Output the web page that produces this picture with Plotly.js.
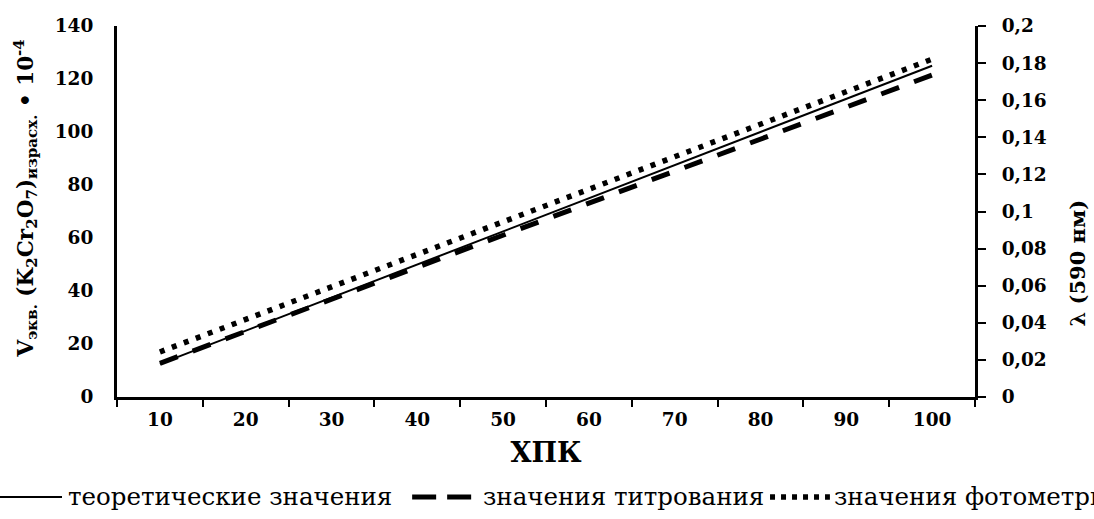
<!DOCTYPE html>
<html>
<head>
<meta charset="utf-8">
<script src="https://cdn.plot.ly/plotly-3.0.1.min.js"></script>
<style>
  html, body { margin: 0; padding: 0; background: #fff; overflow: hidden; }
  #chart { width: 1094px; height: 519px; }
</style>
</head>
<body>
<div id="chart"></div>
<script>
// Categories (ХПК)
const categories = ['10', '20', '30', '40', '50', '60', '70', '80', '90', '100'];
// Series values
const theoretical = [12.5, 25, 37.5, 50, 62.5, 75, 87.5, 100, 112.5, 125];
const titration   = [12.7, 24.8, 36.8, 48.8, 61, 73, 85.2, 97.3, 109.4, 121.5];
const photometry  = [17, 29.3, 41.6, 53.8, 66.1, 78.3, 90.6, 102.9, 115.2, 127.5];
// Axis ticks
const leftTicks  = [0, 20, 40, 60, 80, 100, 120, 140];
const rightTicks = [0, 0.02, 0.04, 0.06, 0.08, 0.1, 0.12, 0.14, 0.16, 0.18, 0.2];
const seriesNames = ['теоретические значения', 'значения титрования', 'значения фотометрии'];

const FONT = '"DejaVu Serif", serif';

const lineStyles = [
  {color: '#000', width: 2},
  {color: '#000', width: 5, dash: '19px,16px'},
  {color: '#000', width: 5.5, dash: '5px,7.8px'}
];
const seriesData = [theoretical, titration, photometry];

const traces = seriesData.map((vals, i) => ({
  x: categories, y: vals, name: seriesNames[i], type: 'scatter', mode: 'lines',
  line: lineStyles[i], xaxis: 'x', yaxis: 'y', showlegend: false
}));
// invisible trace to activate the right axis
traces.push({
  x: categories, y: categories.map(() => null), yaxis: 'y2', type: 'scatter', mode: 'lines',
  showlegend: false, hoverinfo: 'skip'
});

// Legend drawn below the chart (positions in paper units)
const legY = -0.2695;
const legSamples = [[-0.1364, -0.0641], [0.3440, 0.4137], [0.7611, 0.8309]];
const legTextX = [-0.0595, 0.4241, 0.8333];
const legDash = [null, '24px,11px', '5px,6px'];

const shapes = legSamples.map((s, i) => ({
  type: 'line', xref: 'paper', yref: 'paper', x0: s[0], x1: s[1], y0: legY, y1: legY,
  line: Object.assign({}, lineStyles[i], legDash[i] ? {dash: legDash[i]} : {})
}));

const annotations = seriesNames.map((n, i) => ({
  xref: 'paper', yref: 'paper', x: legTextX[i], y: legY, xanchor: 'left', yanchor: 'middle',
  text: n, showarrow: false, font: {family: FONT, size: 24.5, color: '#000'}
}));
// left axis title
annotations.push({
  xref: 'paper', yref: 'paper', x: -0.1072, y: 0.535, xanchor: 'center', yanchor: 'middle',
  text: '<b>V<sub>экв.</sub> (K<sub>2</sub>Cr<sub>2</sub>O<sub>7</sub>)<sub>израсх.</sub> • 10<sup>-4</sup></b>',
  textangle: -90, showarrow: false, font: {family: FONT, size: 21.5, color: '#000'}
});
// right axis title
annotations.push({
  xref: 'paper', yref: 'paper', x: 1.119, y: 0.36, xanchor: 'center', yanchor: 'middle',
  text: '<b>λ (590 нм)</b>', textangle: -90, showarrow: false,
  font: {family: FONT, size: 21, color: '#000'}
});

const layout = {
  width: 1094, height: 519,
  margin: {l: 117, r: 119, t: 26, b: 122},
  paper_bgcolor: '#fff', plot_bgcolor: '#fff',
  separators: ', ',
  font: {family: FONT, color: '#000'},
  showlegend: false,
  xaxis: {
    type: 'category', range: [-0.5, 9.5],
    tickson: 'boundaries',
    ticks: 'outside', ticklen: 7, tickwidth: 2, tickcolor: '#000',
    ticklabelstandoff: 4,
    showline: true, linecolor: '#000', linewidth: 2.5,
    showgrid: false, zeroline: false,
    tickfont: {family: FONT, size: 18.5, color: '#000', weight: 'bold'},
    title: {text: '<b>ХПК</b>', font: {family: FONT, size: 27, color: '#000'}, standoff: 15}
  },
  yaxis: {
    range: [0, 140], tickvals: leftTicks,
    ticks: '', ticklabelstandoff: 17,
    showline: true, linecolor: '#000', linewidth: 3,
    showgrid: false, zeroline: false,
    tickfont: {family: FONT, size: 18.5, color: '#000', weight: 'bold'}
  },
  yaxis2: {
    overlaying: 'y', side: 'right', range: [0, 0.2], tickvals: rightTicks,
    ticks: 'outside', ticklen: 8, tickwidth: 2, tickcolor: '#000',
    ticklabelstandoff: 12,
    showline: true, linecolor: '#000', linewidth: 3,
    showgrid: false, zeroline: false,
    tickfont: {family: FONT, size: 18.5, color: '#000', weight: 'bold'}
  },
  shapes: shapes,
  annotations: annotations
};

Plotly.newPlot('chart', traces, layout, {displayModeBar: false, staticPlot: true});
</script>
</body>
</html>
